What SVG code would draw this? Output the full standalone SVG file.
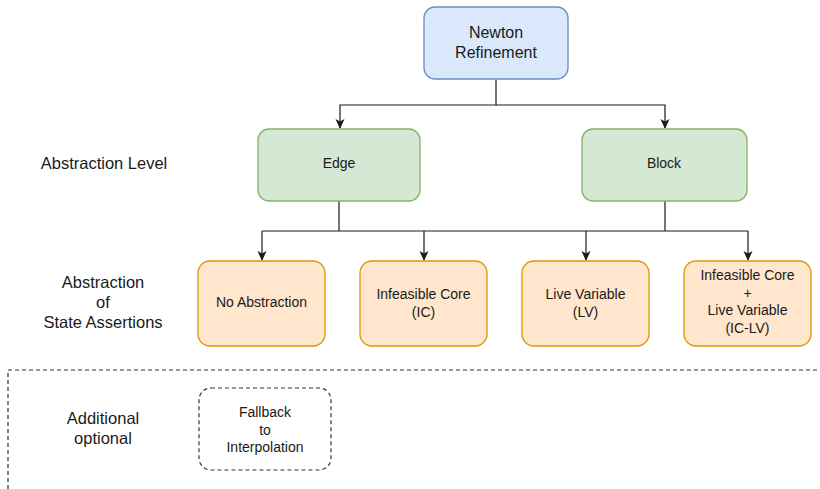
<svg xmlns="http://www.w3.org/2000/svg" width="820" height="489" viewBox="0 0 820 489">
<style>
text{font-family:"Liberation Sans",Arial,sans-serif;fill:#1a1a1a;text-anchor:middle;dominant-baseline:central}
.s14{font-size:14px}.s16{font-size:16px}.s17{font-size:16.5px}
.blue{fill:#dae8fc;stroke:#6c8ebf;stroke-width:1.3}
.green{fill:#d5e8d4;stroke:#82b366;stroke-width:1.3}
.orange{fill:#ffe6cc;stroke:#d79b00;stroke-width:1.3}
.conn{fill:none;stroke:#1a1a1a;stroke-width:1.2}
.dash{fill:none;stroke:#333;stroke-width:1.2;stroke-dasharray:4 3}
</style>
<defs>
<marker id="arr" viewBox="0 0 10 10" refX="9" refY="5" markerWidth="10" markerHeight="10" markerUnits="userSpaceOnUse" orient="auto">
<path d="M0,0.5 L10,5 L0,9.5 L2.5,5 Z" fill="#1a1a1a"/>
</marker>
</defs>
<g id="connectors">
<path class="conn" d="M496,80 V105 H340 V128" marker-end="url(#arr)"/>
<path class="conn" d="M496,105 H665 V128" marker-end="url(#arr)"/>
<path class="conn" d="M339,201 V231"/>
<path class="conn" d="M665,201 V231"/>
<path class="conn" d="M262,231 H748"/>
<path class="conn" d="M262,231 V260" marker-end="url(#arr)"/>
<path class="conn" d="M424,231 V260" marker-end="url(#arr)"/>
<path class="conn" d="M586,231 V260" marker-end="url(#arr)"/>
<path class="conn" d="M748,231 V260" marker-end="url(#arr)"/>
</g>
<g id="label-abstraction-level"><text class="s17" x="104" y="163">Abstraction Level</text></g>
<g id="label-state-assertions"><text class="s17" x="103" y="282">Abstraction</text><text class="s17" x="103" y="302">of</text><text class="s17" x="103" y="322">State Assertions</text></g>
<g id="label-additional"><text class="s17" x="103" y="418">Additional</text><text class="s17" x="103" y="438">optional</text></g>
<g id="newton"><rect class="blue" x="424" y="7" width="144" height="72" rx="11"/><text class="s16" x="496" y="32">Newton</text><text class="s16" x="496" y="52">Refinement</text></g>
<g id="edge"><rect class="green" x="258" y="129" width="162" height="72" rx="11"/><text class="s14" x="339" y="163">Edge</text></g>
<g id="block"><rect class="green" x="582" y="129" width="165" height="72" rx="11"/><text class="s14" x="664" y="163">Block</text></g>
<g id="no-abstraction"><rect class="orange" x="198" y="261" width="127" height="85" rx="12"/><text class="s14" x="261.5" y="302">No Abstraction</text></g>
<g id="ic"><rect class="orange" x="360" y="261" width="127" height="85" rx="12"/><text class="s14" x="423.5" y="294">Infeasible Core</text><text class="s14" x="423.5" y="312">(IC)</text></g>
<g id="lv"><rect class="orange" x="522" y="261" width="127" height="85" rx="12"/><text class="s14" x="585.5" y="294">Live Variable</text><text class="s14" x="585.5" y="312">(LV)</text></g>
<g id="ic-lv"><rect class="orange" x="684" y="261" width="127" height="85" rx="12"/><text class="s14" x="747.5" y="275">Infeasible Core</text><text class="s14" x="747.5" y="292.5">+</text><text class="s14" x="747.5" y="310">Live Variable</text><text class="s14" x="747.5" y="327.5">(IC-LV)</text></g>
<g id="optional-region"><path class="dash" d="M8,489 V370 H818"/></g>
<g id="fallback"><rect class="dash" x="199" y="388" width="132" height="82" rx="12"/><text class="s14" x="265" y="412">Fallback</text><text class="s14" x="265" y="430">to</text><text class="s14" x="265" y="447">Interpolation</text></g>
</svg>
